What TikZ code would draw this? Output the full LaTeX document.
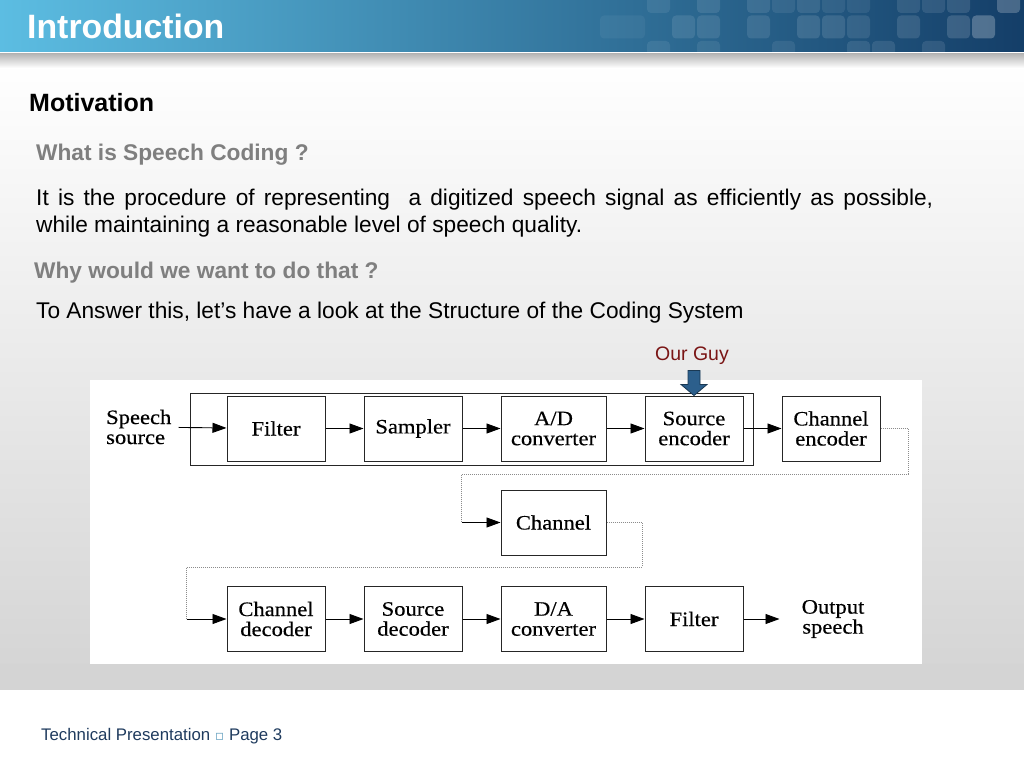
\documentclass[tikz,border=0pt]{standalone}
\usepackage{fontspec}
\setmainfont{Liberation Sans}
\newfontfamily\diafont[FakeStretch=1.1, FakeBold=0.4]{Liberation Serif}
\newfontfamily\symfont{DejaVu Sans}
\usetikzlibrary{positioning, arrows.meta, calc}
\definecolor{barLight}{HTML}{5CBDE2}
\definecolor{barMid}{HTML}{3483AC}
\definecolor{barDark}{HTML}{143E68}
\definecolor{headGrey}{HTML}{7F7F7F}
\definecolor{guyRed}{HTML}{7A1515}
\definecolor{guyBlue}{HTML}{2C5F8C}
\definecolor{footBlue}{HTML}{1F3B5E}

\begin{document}
\begin{tikzpicture}[
    x=1pt, y=-1pt,
    node distance=28pt and 38pt,
    block/.style={rectangle, draw=black!85, line width=1pt, fill=white, align=center, minimum height=65pt, minimum width=98pt, inner sep=1pt, font=\diafont\fontsize{20.5}{20}\selectfont},
    wideblock/.style={block, minimum width=105pt},
    sidetext/.style={align=left, inner sep=2pt, font=\diafont\fontsize{20.5}{20}\selectfont},
    heading/.style={anchor=base west, inner sep=0pt, text=headGrey, font=\bfseries\fontsize{22.7}{26}\selectfont},
    body/.style={anchor=base west, inner sep=0pt, font=\fontsize{22.7}{26}\selectfont},
    arrow/.style={-{Triangle[length=14pt, width=10pt]}, line width=0.9pt},
    link/.style={draw=black!45, line width=0.9pt, dash pattern=on 1pt off 1pt}
]
    \useasboundingbox (0,0) rectangle (1024,768);

    % slide background
    \fill[white] (0,0) rectangle (1024,768);
    \shade[top color=white, bottom color=black!17] (0,60) rectangle (1024,689);
    \fill[black!17] (0,664) rectangle (1024,689);
    \shade[left color=barLight, middle color=barMid, right color=barDark] (0,0) rectangle (1024,52);
    \begin{scope}
        \clip (0,0) rectangle (1024,52);
        \foreach \c/\r/\o in {0/0/0.08, 2/0/0.1, 4/0/0.1, 5/0/0.08, 6/0/0.1, 7/0/0.08, 8/0/0.08, 10/0/0.1, 11/0/0.1, 12/0/0.12, 14/0/0.22,
                              1/1/0.1, 2/1/0.1, 4/1/0.1, 6/1/0.12, 7/1/0.12, 8/1/0.1, 10/1/0.12, 12/1/0.15, 13/1/0.25,
                              0/2/0.08, 2/2/0.08, 5/2/0.08, 8/2/0.1, 9/2/0.1, 11/2/0.1}
            \fill[white, opacity=\o, rounded corners=4pt] (647+25*\c, -10+25.5*\r) rectangle ++(23,23);
        \fill[white, opacity=0.05, rounded corners=4pt] (600,15.5) rectangle ++(45,23);
    \end{scope}
    \draw[white, line width=1.2pt] (0,52.6) -- (1024,52.6);
    \shade[top color=black!30, bottom color=white] (0,53.2) rectangle (1024,68);

    % slide text
    \node[anchor=base west, inner sep=0pt, text=white, font=\bfseries\fontsize{33.8}{36}\selectfont] (title) at (27,39) {Introduction};
    \node[anchor=base west, inner sep=0pt, font=\bfseries\fontsize{25}{28}\selectfont] (motiv) at (29,111) {Motivation};
    \node[heading] (whatq) at (36,160) {What is Speech Coding ?};
    \node[body] (whatA) at (36,205) {\makebox[897pt][s]{It is the procedure of representing \ a digitized speech signal as efficiently as possible,}};
    \node[body] (whatB) at (36,232) {while maintaining a reasonable level of speech quality.};
    \node[heading] (whyq) at (34,278) {Why would we want to do that ?};
    \node[body] (whyA) at (36,318) {To Answer this, let’s have a look at the Structure of the Coding System};
    \node[anchor=base west, inner sep=0pt, text=footBlue, font=\fontsize{16.8}{19}\selectfont] (footer) at (41,740)
        {Technical Presentation {\symfont\fontsize{14}{14}\selectfont\textcolor{barMid!70}{▫}}\ Page 3};

    % diagram panel
    \fill[white] (90,380) rectangle (922,664);

    \node[block] (filter) at (276,428.5) {Filter};
    \node[block, right=of filter] (sampler) {Sampler};
    \node[wideblock, right=of sampler] (adconv) {A/D\\converter};
    \node[block, right=of adconv] (srcenc) {Source\\encoder};
    \node[block, right=of srcenc] (chenc) {Channel\\encoder};
    \node[wideblock, below=of adconv] (channel) {Channel};

    \node[block] (chdec) at (276,619) {Channel\\decoder};
    \node[block, right=of chdec] (srcdec) {Source\\decoder};
    \node[wideblock, right=of srcdec] (daconv) {D/A\\converter};
    \node[block, right=of daconv] (filtout) {Filter};

    \node[sidetext, anchor=west] (source) at (104,427) {Speech\\source};
    \node[sidetext, align=center, right=56pt of filtout] (output) {Output\\speech};

    \node[anchor=base, inner sep=0pt, text=guyRed, font=\fontsize{19.5}{22}\selectfont] (guy) at (692,360) {Our Guy};

    \draw[line width=1.1pt, black!85] ($(filter.north west)+(-36,-2)$) rectangle ($(srcenc.south east)+(10,4)$);

    \filldraw[fill=guyBlue, draw=guyBlue!60!black, line width=0.8pt]
        (srcenc.north) -- ++(-13,-11) -- ++(7,0) -- ++(0,-14) -- ++(12,0) -- ++(0,14) -- ++(7,0) -- cycle;

    \draw[arrow, shorten <=5pt] (source) -- (filter);
    \draw[arrow] (filter) -- (sampler);
    \draw[arrow] (sampler) -- (adconv);
    \draw[arrow] (adconv) -- (srcenc);
    \draw[arrow] (srcenc) -- (chenc);

    \coordinate (turnA) at (908,474);
    \path (channel.west) ++(-39,0) coordinate (inA);
    \draw[link] (chenc.east) -| (turnA) -| (inA);
    \draw[arrow] (inA) -- (channel);

    \coordinate (turnB) at (642,567);
    \path (chdec.west) ++(-40,0) coordinate (inB);
    \draw[link] (channel.east) -| (turnB) -| (inB);
    \draw[arrow] (inB) -- (chdec);

    \draw[arrow] (chdec) -- (srcdec);
    \draw[arrow] (srcdec) -- (daconv);
    \draw[arrow] (daconv) -- (filtout);
    \draw[arrow, shorten >=20pt] (filtout) -- (output);
\end{tikzpicture}
\end{document}
